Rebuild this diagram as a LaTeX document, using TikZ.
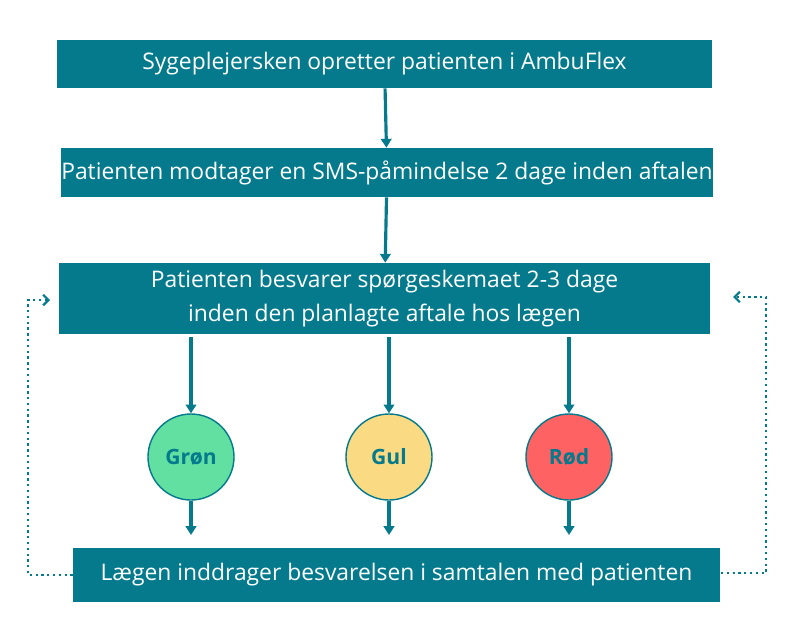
\documentclass[tikz,border=0pt]{standalone}
\usepackage{fontspec}
\setmainfont{Open Sans}
\usetikzlibrary{arrows.meta}
\definecolor{teal}{HTML}{047A8C}
\definecolor{groen}{HTML}{62E0A2}
\definecolor{gul}{HTML}{FADB84}
\definecolor{roed}{HTML}{FF6262}
\tikzset{
	stepbox/.style={fill=teal,text=white,font=\fontsize{13}{19}\selectfont,align=center,inner sep=0pt},
	light/.style={circle,draw=teal,thick,minimum size=86*0.02cm,inner sep=0pt,text=teal,font=\fontsize{12}{14}\selectfont\bfseries},
	flow/.style={-{Triangle[length=5pt,width=6pt]},teal,line width=1.8pt},
	loop/.style={-{Straight Barb[length=3pt,width=6pt]},teal,line width=1.3pt,dotted}
}
\begin{document}
\begin{tikzpicture}[x=0.02cm,y=-0.02cm]
	\useasboundingbox (0,0) rectangle (788,636);
	%
	\node[stepbox,minimum width=655*0.02cm,minimum height=48*0.02cm] (opret) at (384.5,64) {Sygeplejersken opretter patienten i AmbuFlex};
	\node[stepbox,minimum width=650*0.02cm,minimum height=49*0.02cm] (sms) at (387,172.5) {Patienten modtager en SMS-påmindelse 2 dage inden aftalen};
	\node[stepbox,minimum width=651*0.02cm,minimum height=71*0.02cm] (svar) at (384.5,298.5) {Patienten besvarer spørgeskemaet 2-3 dage\\inden den planlagte aftale hos lægen};
	\node[stepbox,minimum width=647*0.02cm,minimum height=54*0.02cm] (samtale) at (396.5,575) {Lægen inddrager besvarelsen i samtalen med patienten};
	%
	\foreach \name/\x/\col/\label in {g/191/groen/Grøn,y/389/gul/Gul,r/569/roed/Rød}{
		\node[light,fill=\col] (\name) at (\x,457) {\label};
		\draw[flow] (\x,337) -- (\name.north);
		\draw[flow] (\name.south) -- (\x,535);
	}
	\draw[flow] (opret) -- (sms);
	\draw[flow] (sms) -- (svar);
	%
	\coordinate (lo) at (28,575);
	\coordinate (ro) at (766,573);
	\draw[loop] (samtale.west) -- (lo) -- (28,300) -- (50,300);
	\draw[loop] (721,573) -- (ro) -- (766,297) -- (733,297);
\end{tikzpicture}
\end{document}
